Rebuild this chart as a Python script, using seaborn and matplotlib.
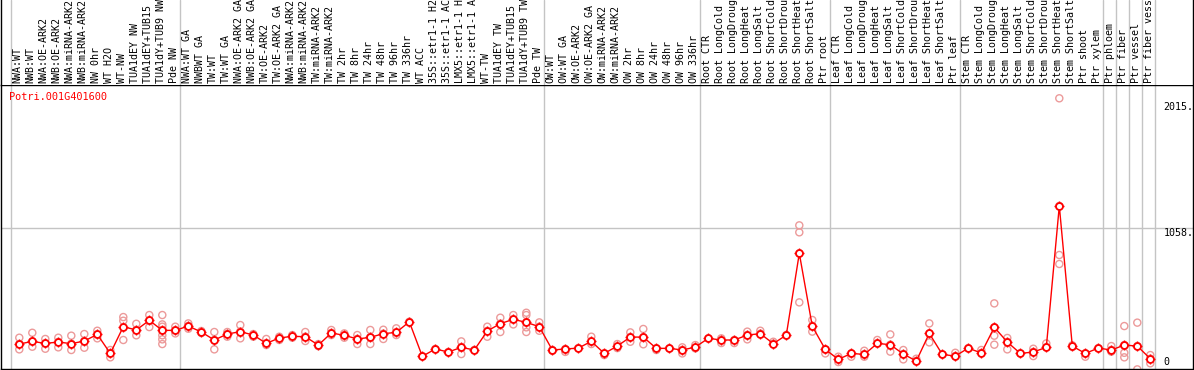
import matplotlib
matplotlib.use("Agg")
import matplotlib.pyplot as plt
import seaborn as sns
import pandas as pd

# gene shown on the chart
gene = "Potri.001G401600"

# sample names (one column each), in the order drawn
samples = [
    "NWA:WT", "NWB:WT", "NWA:OE-ARK2", "NWB:OE-ARK2", "NWA:miRNA-ARK2", "NWB:miRNA-ARK2",
    "NW 0hr", "WT H2O", "WT-NW", "TUA1dEY NW", "TUA1dEY+TUB15 NW", "TUA1dY+TUB9 NW", "Pde NW",
    "NWA:WT GA", "NWBWT GA", "TW:WT", "TW:WT GA", "NWA:OE-ARK2 GA", "NWB:OE-ARK2 GA",
    "TW:OE-ARK2", "TW:OE-ARK2 GA", "NWA:miRNA-ARK2", "NWB:miRNA-ARK2", "TW:miRNA-ARK2",
    "TW:miRNA-ARK2", "TW 2hr", "TW 8hr", "TW 24hr", "TW 48hr", "TW 96hr", "TW 336hr", "WT ACC",
    "35S::etr1-1 H2O", "35S::etr1-1 ACC", "LMX5::etr1-1 H2O", "LMX5::etr1-1 ACC", "WT-TW",
    "TUA1dEY TW", "TUA1dEY+TUB15 TW", "TUA1dY+TUB9 TW", "Pde TW",
    "OW:WT", "OW:WT GA", "OW:OE-ARK2", "OW:OE-ARK2 GA", "OW:miRNA-ARK2", "OW:miRNA-ARK2",
    "OW 2hr", "OW 8hr", "OW 24hr", "OW 48hr", "OW 96hr", "OW 336hr",
    "Root CTR", "Root LongCold", "Root LongDrought", "Root LongHeat", "Root LongSalt",
    "Root ShortCold", "Root ShortDrought", "Root ShortHeat", "Root ShortSalt", "Ptr root",
    "Leaf CTR", "Leaf LongCold", "Leaf LongDrought", "Leaf LongHeat", "Leaf LongSalt",
    "Leaf ShortCold", "Leaf ShortDrought", "Leaf ShortHeat", "Leaf ShortSalt", "Ptr leaf",
    "Stem CTR", "Stem LongCold", "Stem LongDrought", "Stem LongHeat", "Stem LongSalt",
    "Stem ShortCold", "Stem ShortDrought", "Stem ShortHeat", "Stem ShortSalt", "Ptr shoot", "Ptr xylem",
    "Ptr phloem", "Ptr fiber", "Ptr vessel", "Ptr fiber vessel",
]

# number of samples in each study block (separated by grey lines)
group_sizes = [13, 28, 12, 10, 10, 11, 1, 1, 1, 1]

# mean expression per sample (red line)
mean_expr = [
    142, 163, 147, 158, 145, 166, 218, 68, 279, 253, 329, 250, 250,
    284, 237, 174, 221, 240, 213, 147, 190, 203, 200, 134, 229, 211, 182, 195, 224, 234,
    318, 45, 103, 79, 116, 95, 245, 303, 337, 313, 279,
    95, 103, 110, 163, 68, 126, 197, 197, 108, 108, 95, 118,
    187, 174, 174, 213, 224, 145, 213, 858, 282, 100,
    21, 68, 60, 147, 137, 63, 8, 226, 60, 47,
    110, 71, 274, 158, 68, 79, 116, 1232, 126, 68, 110,
    95, 134, 126, 26,
]

# individual replicate values per sample (pink circles)
replicates = [
    [192, 142, 100], [231, 163, 121], [182, 147, 105], [192, 158, 116], [208, 145, 95],
    [221, 166, 113], [247, 218, 187], [95, 68, 37], [355, 326, 174], [302, 253, 211],
    [371, 329, 276], [371, 297, 279, 250, 211, 179, 142], [279, 250, 226],
    [305, 284, 263], [245, 237, 230], [237, 174, 100], [237, 221, 200], [292, 240, 187],
    [221, 213, 200], [182, 147, 134], [200, 190, 174], [213, 203, 192], [237, 200, 166],
    [142, 134, 126], [253, 229, 213], [226, 211, 192], [213, 182, 142], [253, 195, 142],
    [255, 224, 182], [266, 234, 213], [318], [45], [103], [79], [163, 116, 63], [95],
    [279, 245, 200], [350, 303, 237], [371, 337, 297], [389, 371, 313, 274, 237],
    [313, 279, 247],
    [95, 90], [103, 80], [110], [200, 163, 142], [68, 55], [142, 110],
    [234, 197, 160], [261, 197, 140], [108, 95], [108], [116, 95, 68], [134, 108],
    [187], [187, 174, 150], [174, 150], [240, 213, 179], [247, 224], [160, 145], [213],
    [1079, 1024, 858, 471], [332, 282, 240], [100, 68],
    [42, 21, 0], [68, 42], [89, 60, 42], [174, 147], [218, 137, 82], [95, 63, 21],
    [26, 8], [305, 226, 155], [60], [73, 47],
    [110], [95, 71], [463, 274, 208, 137], [190, 158, 100], [68], [105, 79, 47],
    [147, 116], [2082, 1232, 845, 774], [132, 121], [68, 42], [110],
    [126, 95, 82], [284, 134, 73, 37], [311, 126, -58], [55, 26, -10],
]

# right-hand scale
tick_values = [0, 1058, 2015]
tick_labels = ["0", "1058.", "2015."]

sns.set_theme(style="white")
plt.rcParams["font.family"] = ["DejaVu Sans Mono", "DejaVu Sans"]

line_red = "#ff0000"
rep_pink = "#ec9a9a"
grid_grey = "#c4c4c4"

n = len(samples)
mean_df = pd.DataFrame({"idx": range(n), "expr": mean_expr})
rep_df = pd.DataFrame(
    [(i, v) for i, vals in enumerate(replicates) for v in vals], columns=["idx", "expr"]
)

W, H = 1194, 370
fig = plt.figure(figsize=(W / 100, H / 100), dpi=100)
ax = fig.add_axes([1 / W, 1 / H, 1192 / W, 284 / H])
ax_top = fig.add_axes([1 / W, 285 / H, 1192 / W, 85 / H])

# 13 px per sample, first sample 18 px from the left frame
x0 = -18.3 / 13
xlim = (x0, x0 + 1192 / 13)
for a in (ax, ax_top):
    a.set_xlim(*xlim)
    a.set_xticks([])
    a.set_yticks([])
    for s in a.spines.values():
        s.set_color("black")
        s.set_linewidth(1)
ax.set_ylim(-55, 2187)
ax_top.set_ylim(0, 1)
ax_top.spines["top"].set_visible(False)
ax_top.spines["bottom"].set_visible(False)

# block separators
edges = [0]
for g in group_sizes:
    edges.append(edges[-1] + g)
for e in edges:
    ax.axvline(e - 0.66, color=grid_grey, lw=1, zorder=0)
    ax_top.axvline(e - 0.66, color=grid_grey, lw=1, zorder=0)
ax.axhline(tick_values[1], color=grid_grey, lw=1, zorder=0)

sns.scatterplot(data=rep_df, x="idx", y="expr", ax=ax, marker="o", s=26,
                facecolor="none", edgecolor=rep_pink, linewidth=1, zorder=2, legend=False)
for coll in ax.collections:
    coll.set_facecolor("none")
    coll.set_edgecolor(rep_pink)

# mean line; a "+" under a white-filled ring gives the small tick marks
sns.lineplot(data=mean_df, x="idx", y="expr", ax=ax, color=line_red, linewidth=1,
             marker="+", markersize=6.8, markeredgewidth=1.0,
             markeredgecolor=line_red, zorder=3)
sns.lineplot(data=mean_df, x="idx", y="expr", ax=ax, color=line_red, linestyle="",
             marker="o", markersize=5.0, markerfacecolor="white",
             markeredgecolor=line_red, markeredgewidth=1.3, zorder=4)
ax.set_xlabel("")
ax.set_ylabel("")

# scale labels on the right
for v, lab in zip(tick_values, tick_labels):
    ax.text(n, v, lab, ha="left", va="top" if v == tick_values[1] else "center",
            fontsize=7.2, color="black")

ax.text(0.0067, 0.958, gene, transform=ax.transAxes, color=line_red,
        fontsize=7.4, ha="left", va="center")

# sample names, rotated (long ones run off the top edge, as in the original)
for i, lab in enumerate(samples):
    ax_top.text(i - 0.12, 2 / 85, lab, rotation=90, ha="center", va="bottom",
                fontsize=7.2, color="black", clip_on=False)

fig.savefig("out.png", dpi=100)
plt.close(fig)
